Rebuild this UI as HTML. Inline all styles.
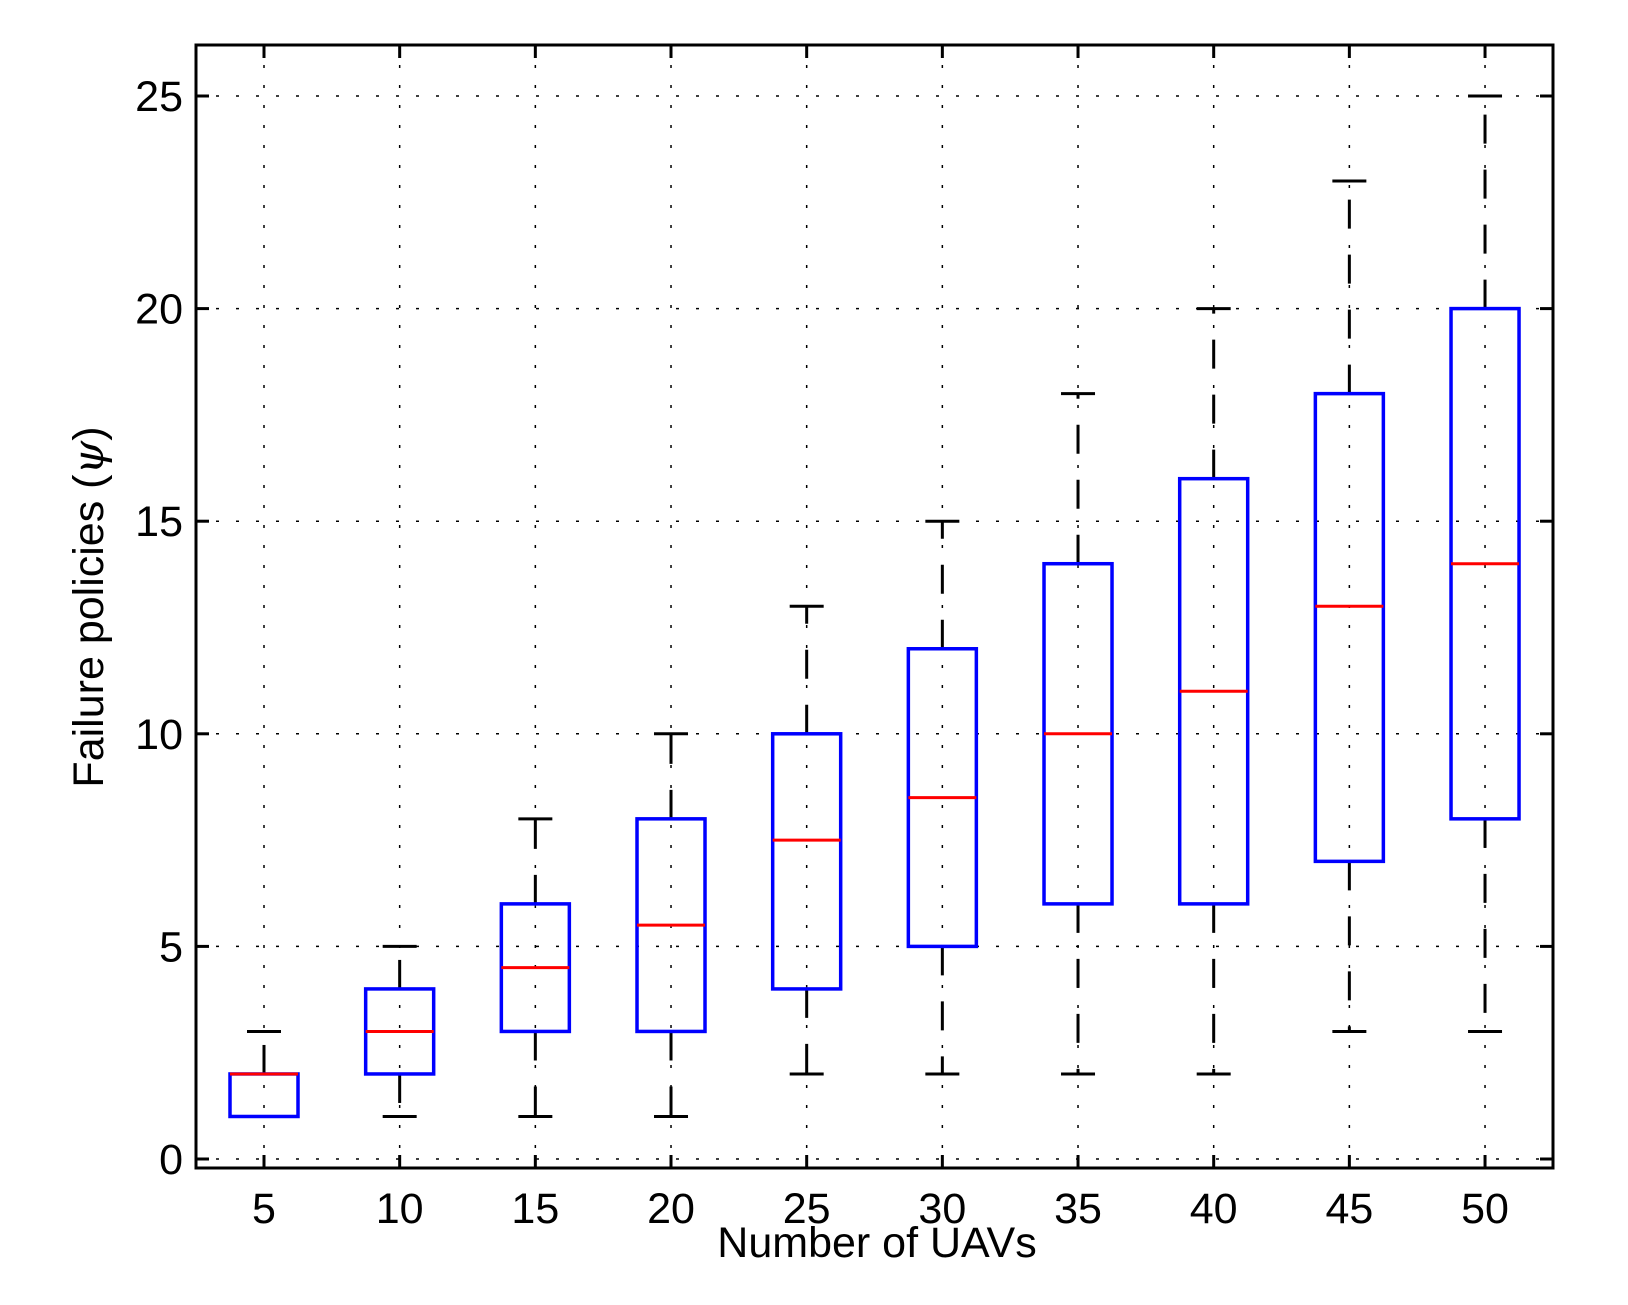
<!DOCTYPE html>
<html><head><meta charset="utf-8"><style>
html,body{margin:0;padding:0;background:#fff;}
svg{display:block;}
text{font-family:"Liberation Sans",Arial,sans-serif;fill:#000;}
</style></head><body>
<svg width="1628" height="1305" viewBox="0 0 1628 1305" xmlns="http://www.w3.org/2000/svg">
<rect width="1628" height="1305" fill="#fff"/>
<g id="grid" stroke="#000" stroke-width="1.5" stroke-dasharray="3,17" fill="none"></g>
<g id="boxes"></g>
<rect x="196" y="45" width="1357" height="1123" fill="none" stroke="#000" stroke-width="3"/>
<g id="ticks" stroke="#000" stroke-width="3"></g>
<g id="labels" font-size="43"></g>
<text x="877" y="1257" font-size="43" text-anchor="middle">Number of UAVs</text>
<text transform="translate(103,607) rotate(-90)" font-size="43" text-anchor="middle">Failure policies (<tspan font-family="'DejaVu Serif',serif" font-style="italic">ψ</tspan>)</text>
</svg>
<script>
var ns="http://www.w3.org/2000/svg";
function X(v){return 264+(v-5)/5*135.67;}
function Y(v){return 1159-v*42.52;}
function el(p,t,a){var e=document.createElementNS(ns,t);for(var k in a)e.setAttribute(k,a[k]);p.appendChild(e);return e;}
var g=document.getElementById('grid'),tk=document.getElementById('ticks'),lb=document.getElementById('labels'),bx=document.getElementById('boxes');
for(var i=1;i<=10;i++){var x=X(i*5);
el(g,'line',{x1:x,y1:45,x2:x,y2:1168});
el(tk,'line',{x1:x,y1:1168,x2:x,y2:1155});el(tk,'line',{x1:x,y1:45,x2:x,y2:58});
var t=el(lb,'text',{x:x,y:1223,'text-anchor':'middle'});t.textContent=i*5;}
for(var v=0;v<=25;v+=5){var y=Y(v);
el(g,'line',{x1:196,y1:y,x2:1553,y2:y});
el(tk,'line',{x1:196,y1:y,x2:209,y2:y});el(tk,'line',{x1:1553,y1:y,x2:1540,y2:y});
var t=el(lb,'text',{x:183,y:y+15,'text-anchor':'end'});t.textContent=v;}
var d=[[5,1,2,2,1,3],[10,2,3,4,1,5],[15,3,4.5,6,1,8],[20,3,5.5,8,1,10],[25,4,7.5,10,2,13],[30,5,8.5,12,2,15],[35,6,10,14,2,18],[40,6,11,16,2,20],[45,7,13,18,3,23],[50,8,14,20,3,25]];
d.forEach(function(r){var x=X(r[0]);
if(r[4]<r[1])el(bx,'line',{x1:x,y1:Y(r[1]),x2:x,y2:Y(r[4]),stroke:'#000','stroke-width':3,'stroke-dasharray':'29,26'});
el(bx,'line',{x1:x,y1:Y(r[3]),x2:x,y2:Y(r[5]),stroke:'#000','stroke-width':3,'stroke-dasharray':'29,26'});
if(r[4]<r[1])el(bx,'line',{x1:x-17,y1:Y(r[4]),x2:x+17,y2:Y(r[4]),stroke:'#000','stroke-width':3});
el(bx,'line',{x1:x-17,y1:Y(r[5]),x2:x+17,y2:Y(r[5]),stroke:'#000','stroke-width':3});
el(bx,'rect',{x:x-34,y:Y(r[3]),width:68,height:Y(r[1])-Y(r[3]),fill:'none',stroke:'#0000ff','stroke-width':3.5});
el(bx,'line',{x1:x-34,y1:Y(r[2]),x2:x+34,y2:Y(r[2]),stroke:'#ff0000','stroke-width':3});
});
</script>
</body></html>
